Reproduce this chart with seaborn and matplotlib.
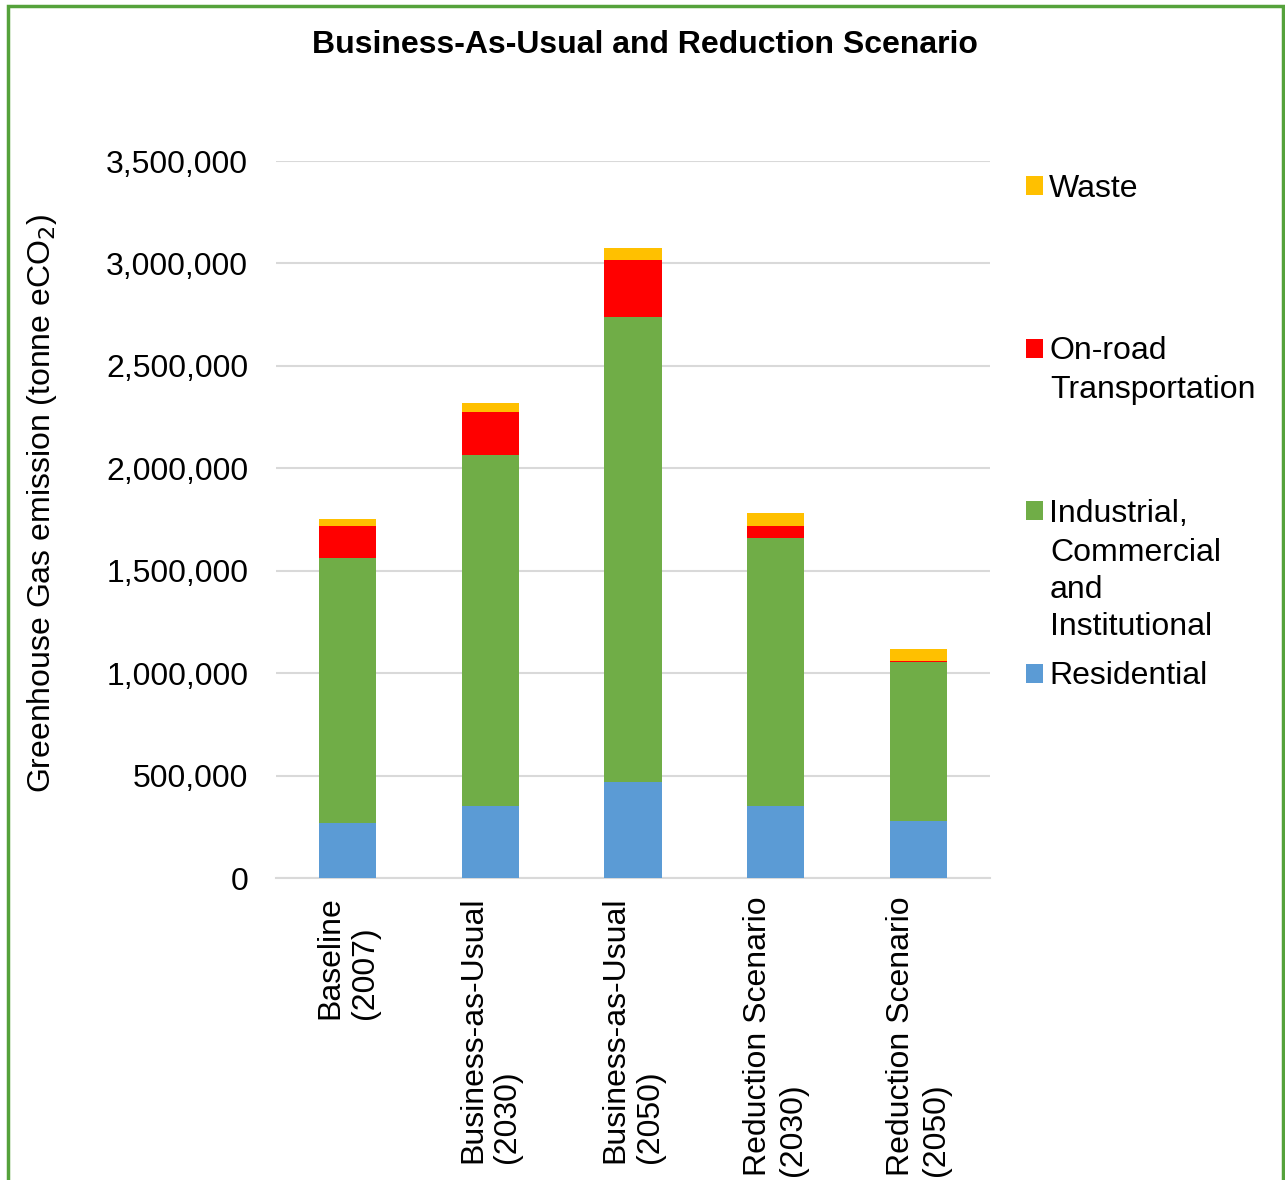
import matplotlib
matplotlib.use("Agg")
import matplotlib.pyplot as plt
import seaborn as sns
import pandas as pd
import numpy as np
from matplotlib.patches import Patch, Rectangle
from matplotlib.ticker import FuncFormatter

# ---- data ----
categories = ["Baseline\n(2007)", "Business-as-Usual\n(2030)", "Business-as-Usual\n(2050)",
              "Reduction Scenario\n(2030)", "Reduction Scenario\n(2050)"]
residential = [270000, 353000, 468000, 351000, 276000]
industrial = [1292000, 1711000, 2270000, 1308000, 776000]
transport = [156000, 210000, 277000, 60000, 8000]
waste = [34000, 44000, 60000, 62000, 57000]
series_names = ["Residential", "Industrial, Commercial and Institutional",
                "On-road Transportation", "Waste"]
legend_lines = {
    "Waste": ["Waste"],
    "On-road Transportation": ["On-road", "Transportation"],
    "Industrial, Commercial and Institutional": ["Industrial,", "Commercial", "and", "Institutional"],
    "Residential": ["Residential"],
}
colors = {"Residential": "#5B9BD5", "Industrial, Commercial and Institutional": "#70AD47",
          "On-road Transportation": "#FF0000", "Waste": "#FFC000"}
yticks = [0, 500000, 1000000, 1500000, 2000000, 2500000, 3000000, 3500000]

sns.set_style("white")
plt.rcParams["font.family"] = ["Liberation Sans", "DejaVu Sans"]
plt.rcParams["text.color"] = "black"
plt.rcParams["xtick.color"] = "black"
plt.rcParams["ytick.color"] = "black"

FS = 23
W, H = 1285, 1180
fig = plt.figure(figsize=(W / 100, H / 100), dpi=100)
ax = fig.add_axes([276 / W, 1 - 878 / H, (990 - 276) / W, (878 - 161) / H])

df = pd.DataFrame({"cat": categories, "Residential": residential,
                   "Industrial, Commercial and Institutional": industrial,
                   "On-road Transportation": transport, "Waste": waste})
cum = df[series_names].cumsum(axis=1)

# draw from top (total) to bottom so layers stack visually
for name in reversed(series_names):
    sns.barplot(x=df["cat"], y=cum[name], color=colors[name], width=0.4,
                saturation=1, ax=ax, linewidth=0, zorder=3)

ax.set_ylim(0, 3500000)
ax.set_xlim(-0.5, 4.5)
ax.set_yticks(yticks)
ax.yaxis.set_major_formatter(FuncFormatter(lambda v, p: f"{int(v):,}"))
ax.grid(axis="y", color="#d9d9d9", linewidth=1.5, zorder=0)
ax.set_axisbelow(True)
for s in ["top", "right", "left"]:
    ax.spines[s].set_visible(False)
ax.spines["bottom"].set_color("#d9d9d9")
ax.spines["bottom"].set_linewidth(1.5)
ax.tick_params(axis="y", length=0, pad=20, labelsize=FS, labelcolor="black")
ax.tick_params(axis="x", length=0, pad=13, labelsize=FS, labelcolor="black")
ax.set_xlabel("")
ax.set_ylabel("")
ax.set_xticks(range(len(categories)))
ax.set_xticklabels(categories, rotation=90, va="top", ha="center",
                   multialignment="left", linespacing=1.2)

fig.text(645 / W, 1 - 45 / H, "Business-As-Usual and Reduction Scenario",
         ha="center", va="center", fontsize=FS, fontweight="bold", color="black")
fig.text(42 / W, 1 - 503 / H, "Greenhouse Gas emission (tonne eCO$_2$)",
         rotation=90, ha="center", va="center", fontsize=FS, color="black")

# legend (Excel-like, evenly spaced first lines)
leg_order = ["Waste", "On-road Transportation",
             "Industrial, Commercial and Institutional", "Residential"]
first_y = [189, 351.5, 514, 676.5]
for name, yc in zip(leg_order, first_y):
    lines = legend_lines[name]
    lg = fig.legend(handles=[Patch(facecolor=colors[name], edgecolor="none")],
                    labels=[lines[0]], loc="center left",
                    bbox_to_anchor=(1026 / W, 1 - yc / H), frameon=False,
                    borderpad=0, borderaxespad=0, handlelength=0.53,
                    handleheight=0.53, handletextpad=0.2, fontsize=FS,
                    labelcolor="black")
    for k, ln in enumerate(lines[1:], start=1):
        fig.text(1050 / W, 1 - (yc + 10 + 37 * k) / H, ln, ha="left",
                 va="baseline", fontsize=FS, color="black")

# green frame
fig.patches.append(Rectangle((7.5 / W, -0.05), (1283 - 7.5) / W, 1.05 - 6 / H,
                             transform=fig.transFigure, fill=False,
                             edgecolor="#55A23B", linewidth=2.5))

fig.savefig("out.png", dpi=100)
